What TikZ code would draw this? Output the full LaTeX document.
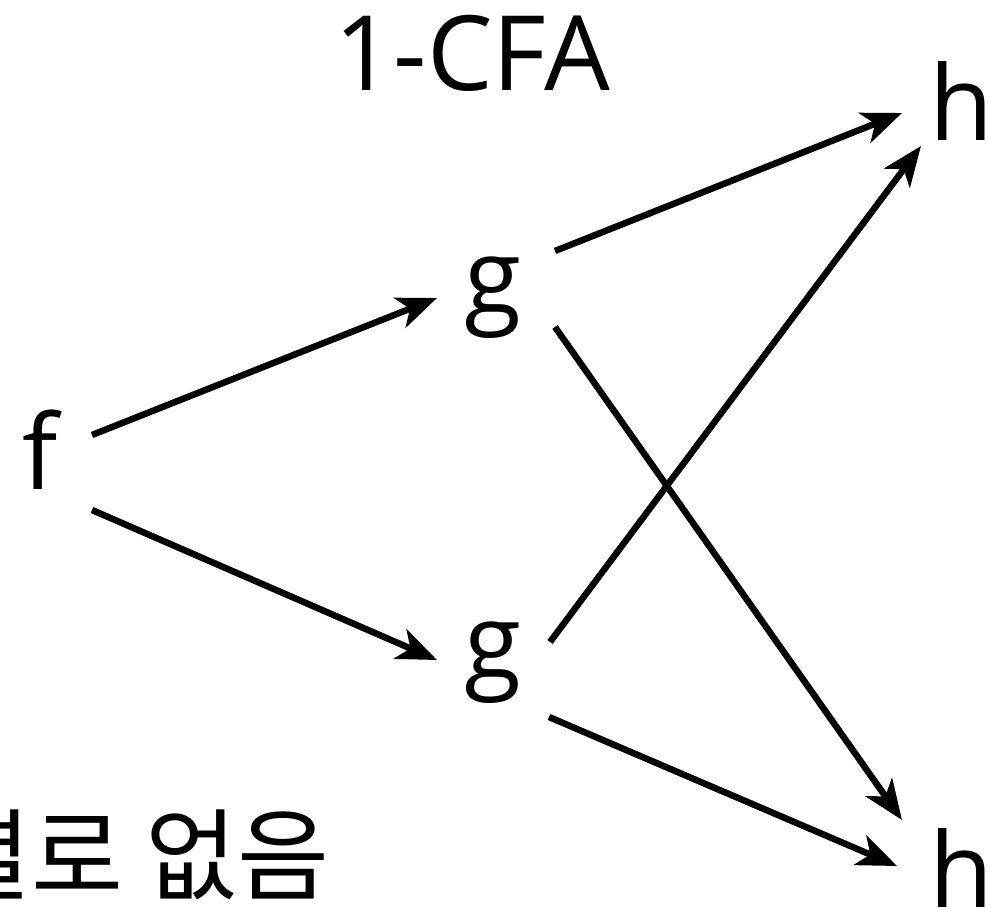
\documentclass[tikz,border=0pt]{standalone}
\usepackage{fontspec}
\setmainfont{Open Sans}
\newfontfamily\krfont{Noto Sans CJK KR}
\usetikzlibrary{arrows.meta}
\begin{document}
\begin{tikzpicture}[x=1pt,y=-1pt]
\useasboundingbox (0,0) rectangle (1005,909);
\tikzstyle{letter}=[inner sep=0pt, font=\fontsize{104}{110}\selectfont]
\tikzstyle{call}=[-{Stealth[length=40pt,width=32pt,inset=11pt]}, line width=6.5pt]
\node[letter] (title) at (472,53) {1-CFA};
\node[letter] (f) at (40,450) {f};
\node[letter] (g1) at (493,298) {g};
\node[letter] (g2) at (493,663) {g};
\node[letter] (h1) at (961,101) {h};
\node[letter] (h2) at (961,868) {h};
\node[anchor=east, inner sep=0pt, font=\krfont\fontsize{100}{106}\selectfont] (note) at (330,855) {별로 없음};
\draw[call] ([shift={(52,-15)}]f.center) -- ([shift={(-56,0)}]g1.center);
\draw[call] ([shift={(52,60)}]f.center) -- ([shift={(-56,-3)}]g2.center);
\draw[call] ([shift={(62,-47)}]g1.center) -- ([shift={(-59,12)}]h1.center);
\draw[call] ([shift={(62,29)}]g1.center) -- ([shift={(-59,-48)}]h2.center);
\draw[call] ([shift={(57,-21)}]g2.center) -- ([shift={(-40,45)}]h1.center);
\draw[call] ([shift={(56,54)}]g2.center) -- ([shift={(-64,-2)}]h2.center);
\end{tikzpicture}
\end{document}
